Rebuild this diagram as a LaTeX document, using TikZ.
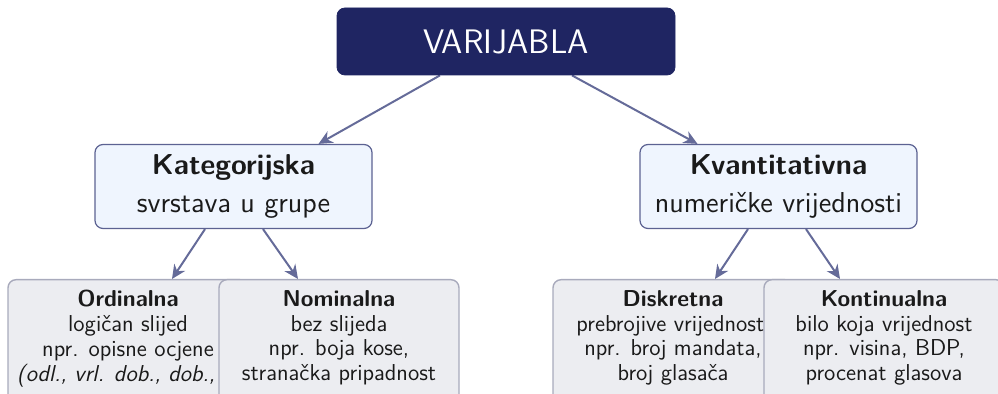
\documentclass[tikz,border=0pt]{standalone}
\usepackage{fontspec}
\usetikzlibrary{arrows.meta,backgrounds}
\definecolor{navy}{HTML}{1F2562}
\definecolor{arrowc}{HTML}{656B99}
\definecolor{catborder}{HTML}{5C6292}
\definecolor{catfill}{HTML}{EFF5FE}
\definecolor{leafborder}{HTML}{A8AABC}
\definecolor{leaffill}{HTML}{ECEDF1}
\definecolor{txt}{HTML}{1A1A1A}
\begin{document}
\begin{tikzpicture}[x=0.5pt,y=-0.5pt,
  rootbox/.style={draw=navy, fill=navy, rounded corners=4pt, minimum width=169pt, minimum height=33.5pt, inner sep=0pt,
    text=white, font=\sffamily\fontsize{17}{20}\selectfont},
  catbox/.style={draw=catborder, line width=0.6pt, fill=catfill, rounded corners=4pt, minimum width=138.5pt, minimum height=42pt,
    inner sep=0pt, align=center, text=txt, font=\sffamily\fontsize{14.4}{19}\selectfont},
  leafbox/.style={draw=leafborder, line width=0.7pt, fill=leaffill, rounded corners=4pt, minimum width=120pt, minimum height=70pt,
    inner sep=0pt, anchor=north},
  leaftext/.style={anchor=north, inner sep=0pt, align=center, text=txt, font=\sffamily\fontsize{11.5}{12.4}\selectfont},
  conn/.style={draw=arrowc, line width=1pt, -{Stealth[length=7pt,width=6.5pt]}}
]
\useasboundingbox (0,0) rectangle (998,394);
\clip (0,0) rectangle (998,394);

\node[rootbox] (var) at (506,41.5) {VARIJABLA};
\node[catbox] (kat) at (233.5,186.5) {\textbf{Kategorijska}\\svrstava u grupe};
\node[catbox] (kvan) at (778.5,186.5) {\textbf{Kvantitativna}\\numeričke vrijednosti};

\node[leafbox] (ord) at (128,279) {};
\node[leaftext] (ordt) at (128,290) {\textbf{Ordinalna}\\logičan slijed\\npr. opisne ocjene\\\makebox[111pt][l]{\itshape (odl., vrl. dob., dob., dov.)}};
\node[leafbox] (nom) at (339,279) {};
\node[leaftext] (nomt) at (339,290) {\textbf{Nominalna}\\bez slijeda\\npr. boja kose,\\stranačka pripadnost};
\node[leafbox] (dis) at (673,279) {};
\node[leaftext] (dist) at (673,290) {\textbf{Diskretna}\\prebrojive vrijednosti\\npr. broj mandata,\\broj glasača};
\node[leafbox] (kon) at (884,279) {};
\node[leaftext] (kont) at (884,290) {\textbf{Kontinualna}\\bilo koja vrijednost\\npr. visina, BDP,\\procenat glasova};

\begin{scope}[on background layer]
\draw[conn] ([xshift=-33pt]var.south) -- ([xshift=42.5pt]kat.north);
\draw[conn] ([xshift=33pt]var.south) -- ([xshift=-40.5pt]kvan.north);
\draw[conn] ([xshift=-14.25pt]kat.south) -- ([xshift=22pt]ord.north);
\draw[conn] ([xshift=14.75pt]kat.south) -- ([xshift=-20.5pt]nom.north);
\draw[conn] ([xshift=-15.25pt]kvan.south) -- ([xshift=21pt]dis.north);
\draw[conn] ([xshift=13.75pt]kvan.south) -- ([xshift=-22pt]kon.north);
\end{scope}
\end{tikzpicture}
\end{document}
